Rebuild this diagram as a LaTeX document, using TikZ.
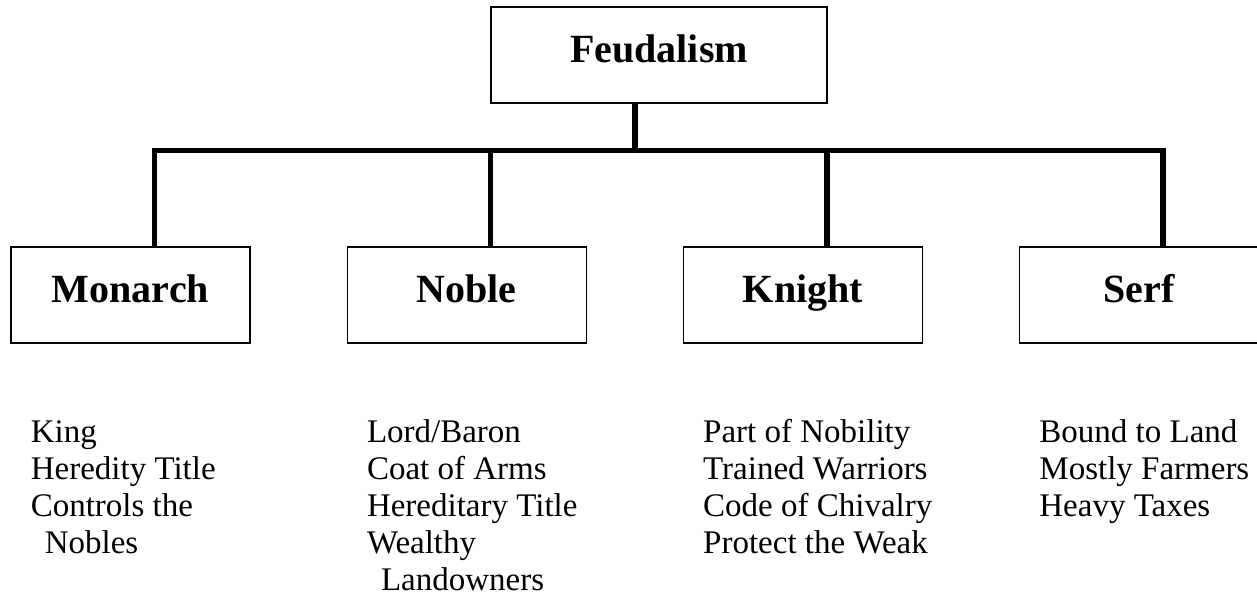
\documentclass[tikz,border=0pt]{standalone}
\usepackage{fontspec}
\setmainfont{Liberation Serif}
\usetikzlibrary{positioning}

\begin{document}
\begin{tikzpicture}[
x=0.5pt, y=-0.5pt,
node distance=48pt,
rankbox/.style={draw, line width=0.6pt, minimum width=119.5pt, minimum height=48pt, inner sep=0pt, font=\fontsize{20}{24}\selectfont\bfseries, text height=12pt, text depth=4pt},
notes/.style={align=left, inner sep=0pt, font=\fontsize{16.5}{18.5}\selectfont},
bar/.style={line width=2.7pt, line join=miter}
]
\useasboundingbox (0,0) rectangle (1257,597);
\node[rankbox, minimum width=168pt] (feud) at (659,55) {Feudalism};
\node[rankbox] (monarch) at (130.5,295) {Monarch};
\node[rankbox, right=of monarch] (noble) {Noble};
\node[rankbox, right=of noble] (knight) {Knight};
\node[rankbox, right=of knight] (serf) {Serf};
\node[notes, below right=36.5pt and 10pt of monarch.south west] (monarchnotes) {\strut King\\Heredity Title\\Controls the\\\hspace*{7pt}Nobles};
\node[notes, below right=36.5pt and 10pt of noble.south west] (noblenotes) {\strut Lord/Baron\\Coat of Arms\\Hereditary Title\\Wealthy\\\hspace*{7pt}Landowners};
\node[notes, below right=36.5pt and 10pt of knight.south west] (knightnotes) {\strut Part of Nobility\\Trained Warriors\\Code of Chivalry\\Protect the Weak};
\node[notes, below right=36.5pt and 10pt of serf.south west] (serfnotes) {\strut Bound to Land\\Mostly Farmers\\Heavy Taxes};
\draw[bar] ([xshift=12pt]monarch.north) -- ++(0,48pt) -| ([xshift=12pt]serf.north);
\draw[bar] ([xshift=12pt]noble.north) -- ++(0,48pt);
\draw[bar] ([xshift=12pt]knight.north) -- ++(0,48pt);
\draw[bar] ([xshift=-12pt]feud.south) -- ++(0,-24pt);
\end{tikzpicture}
\end{document}
